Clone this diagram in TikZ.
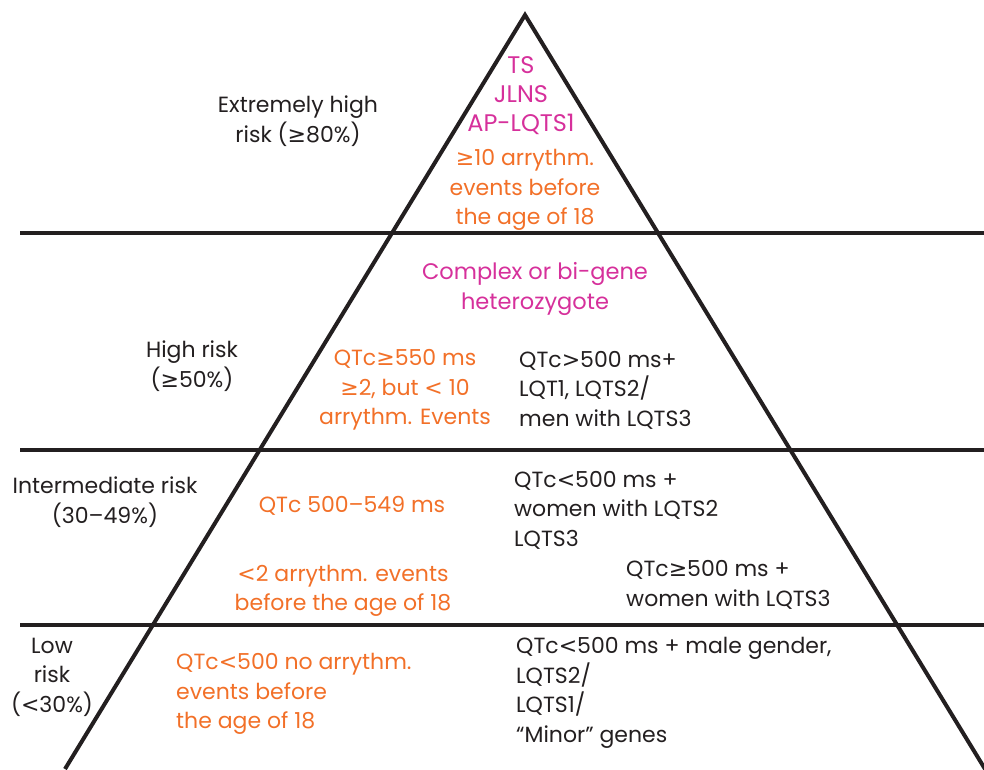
\documentclass[tikz,border=0pt]{standalone}
\usepackage{fontspec}
\setmainfont{Poppins}
\newfontfamily\symf{DejaVu Sans}
\newcommand\gsym{{\symf ≥}}
\newcommand\lsym{{\symf <}}
\newcommand\rsym{{\symf >}}
\definecolor{txtblack}{RGB}{35,31,32}
\definecolor{mag}{RGB}{214,48,155}
\definecolor{org}{RGB}{242,112,40}
\begin{document}
\begin{tikzpicture}[x=1pt,y=-1pt,
  lbl/.style={inner sep=0pt,text=txtblack,font=\fontsize{22}{29.5}\selectfont},
  cc/.style={lbl,align=center},
  ll/.style={lbl,align=left,anchor=west},
  magt/.style={text=mag,font=\fontsize{24}{29}\selectfont},
  magc/.style={text=mag,font=\fontsize{22.5}{30}\selectfont},
  orgt/.style={text=org},
  edge/.style={line width=4pt,draw=txtblack}]
\useasboundingbox (0,0) rectangle (984,769);
% pyramid
\coordinate (apex) at (525,15);
\coordinate (bl) at (65,769);
\coordinate (br) at (985,769);
\coordinate (h1l) at (20,233);
\coordinate (h1r) at (984,233);
\coordinate (h2l) at (20,450);
\coordinate (h2r) at (984,450);
\coordinate (h3l) at (20,625);
\coordinate (h3r) at (984,625);
\draw[edge,line join=miter] (bl) -- (apex) -- (br);
\draw[edge] (h1l) -- (h1r);
\draw[edge] (h2l) -- (h2r);
\draw[edge] (h3l) -- (h3r);
% left labels
\node[cc] (ext) at (298,121) {Extremely high\\risk (\gsym80\%)};
\node[cc] (high) at (192,366) {High risk\\(\gsym50\%)};
\node[cc] (inter) at (105,502) {Intermediate risk\\(30–49\%)};
\node[cc] (low) at (52,677) {Low\\risk\\(\lsym30\%)};
% top
\node[cc,magt] (ts) at (521,96) {TS\\JLNS\\AP-LQTS1};
\node[cc,orgt] (ten) at (525,190) {\gsym10 arrythm.\\events before\\the age of 18};
% high
\node[cc,magc] (complex) at (535,289) {Complex or bi-gene\\heterozygote};
\node[cc,orgt] (q550) at (405,390) {QTc\gsym550 ms\\\gsym2, but \lsym\ 10\\arrythm. Events};
\node[ll] (q500a) at (519,390) {QTc\rsym500 ms+\\LQT1, LQTS2/\\men with LQTS3};
% intermediate
\node[cc,orgt] (q549) at (352,506) {QTc 500–549 ms};
\node[ll] (q500b) at (514,510) {QTc\lsym500 ms +\\women with LQTS2\\LQTS3};
\node[cc,orgt] (lt2) at (343,591) {\lsym2 arrythm. events\\before the age of 18};
\node[ll] (q500c) at (626,585) {QTc\gsym500 ms +\\women with LQTS3};
% low
\node[ll,orgt] (q500d) at (176,694) {QTc\lsym500 no arrythm.\\events before\\the age of 18};
\node[ll] (q500e) at (516,693) {QTc\lsym500 ms + male gender,\\LQTS2/\\LQTS1/\\“Minor” genes};
\end{tikzpicture}
\end{document}
